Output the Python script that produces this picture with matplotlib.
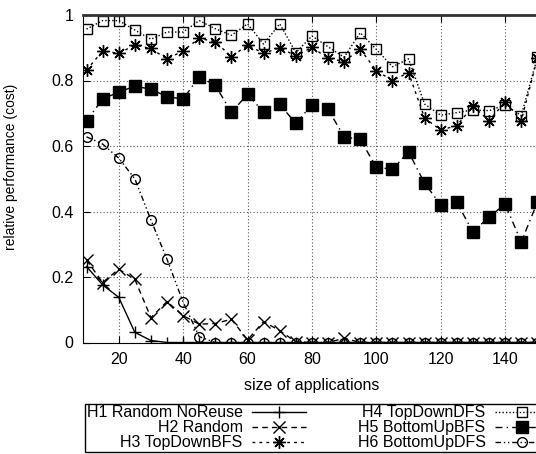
import numpy as np
import matplotlib
matplotlib.use("Agg")
import matplotlib.pyplot as plt

plt.rcParams['font.family'] = ['Liberation Sans', 'DejaVu Sans']

# application sizes (x axis)
sizes = list(range(10, 151, 5))

h1 = [0.232, 0.176, 0.138, 0.031, 0.006] + [0.0] * 24
h2 = [0.252, 0.183, 0.224, 0.193, 0.076, 0.125, 0.082, 0.056, 0.058, 0.071,
      0.008, 0.064, 0.036, 0.002, 0.0, 0.0, 0.013] + [0.0] * 12
h3 = [0.832, 0.890, 0.883, 0.908, 0.898, 0.865, 0.891, 0.929, 0.918, 0.873,
      0.908, 0.883, 0.900, 0.875, 0.901, 0.868, 0.858, 0.896, 0.830, 0.800,
      0.824, 0.685, 0.649, 0.662, 0.722, 0.677, 0.735, 0.677, 0.868]
h4 = [0.957, 0.983, 0.983, 0.954, 0.926, 0.948, 0.948, 0.983, 0.958, 0.938,
      0.973, 0.911, 0.973, 0.885, 0.936, 0.903, 0.871, 0.946, 0.895, 0.842,
      0.866, 0.728, 0.694, 0.702, 0.710, 0.708, 0.725, 0.693, 0.871]
h5 = [0.676, 0.744, 0.764, 0.783, 0.773, 0.751, 0.743, 0.812, 0.785, 0.703,
      0.758, 0.703, 0.727, 0.669, 0.726, 0.712, 0.628, 0.620, 0.535, 0.529,
      0.582, 0.486, 0.420, 0.428, 0.337, 0.384, 0.422, 0.307, 0.428]
h6 = [0.628, 0.606, 0.563, 0.500, 0.374, 0.254, 0.123, 0.018] + [0.0] * 21

labels = ["H1 Random NoReuse", "H2 Random", "H3 TopDownBFS",
          "H4 TopDownDFS", "H5 BottomUpBFS", "H6 BottomUpDFS"]

fig = plt.figure(figsize=(5.36, 4.54), dpi=100)
ax = fig.add_axes([83.3 / 536, 1 - 342.5 / 454, (543.8 - 83.3) / 536, 327.5 / 454])

star = (8, 2, 0)
ax.plot(sizes, h1, color='black', lw=1.0, ls='-', marker='+', ms=9, mew=1.0,
        label=labels[0])
ax.plot(sizes, h2, color='black', lw=1.0, ls=(0, (4, 3)), marker='x', ms=8,
        mew=1.0, label=labels[1])
ax.plot(sizes, h3, color='black', lw=1.0, ls=(0, (2, 3)), marker=star, ms=9,
        mew=1.0, label=labels[2])
ax.plot(sizes, h4, color='black', lw=1.0, ls=(0, (1, 1.5)), marker='s', ms=7,
        mfc='none', mew=1.0, label=labels[3])
ax.plot(sizes, h5, color='black', lw=1.0, ls=(0, (5, 3, 1, 3)), marker='s',
        ms=8, mfc='black', label=labels[4])
ax.plot(sizes, h6, color='black', lw=1.0, ls=(0, (4, 2, 1, 2, 1, 2)), marker='o',
        ms=7, mfc='none', mew=1.0, label=labels[5])

ax.set_xlim(9, 152)
ax.set_ylim(0, 1)
ax.set_xticks(range(20, 141, 20))
ax.set_yticks([0, 0.2, 0.4, 0.6, 0.8, 1.0])
ax.set_yticklabels(["0", "0.2", "0.4", "0.6", "0.8", "1"])
ax.tick_params(direction='in', length=5, top=True, right=False,
               labelsize=11.5, pad=7)
ax.grid(True, color='0.35', ls=(0, (1, 2)), lw=0.8)
ax.spines['top'].set_linewidth(2.0)
ax.spines['top'].set_color('0.2')

ax.set_xlabel("size of applications", fontsize=11.5)
ax.xaxis.set_label_coords(0.497, -0.107)
ax.set_ylabel("relative performance (cost)", fontsize=10)
ax.yaxis.set_label_coords(-0.142, 0.536)

handles, labs = ax.get_legend_handles_labels()
leg = fig.legend(handles, labs, ncol=2, markerfirst=False, mode='expand',
                 loc='lower left', borderaxespad=0,
                 bbox_to_anchor=(85 / 536, 1 - 452 / 454, 466 / 536, 50 / 454),
                 fontsize=11.5, handlelength=3.4, handletextpad=0.6,
                 labelspacing=0.0, borderpad=0.1, columnspacing=1.0,
                 fancybox=False, framealpha=1, edgecolor='black')
leg.get_frame().set_linewidth(1.0)

fig.savefig("out.png", dpi=100)
